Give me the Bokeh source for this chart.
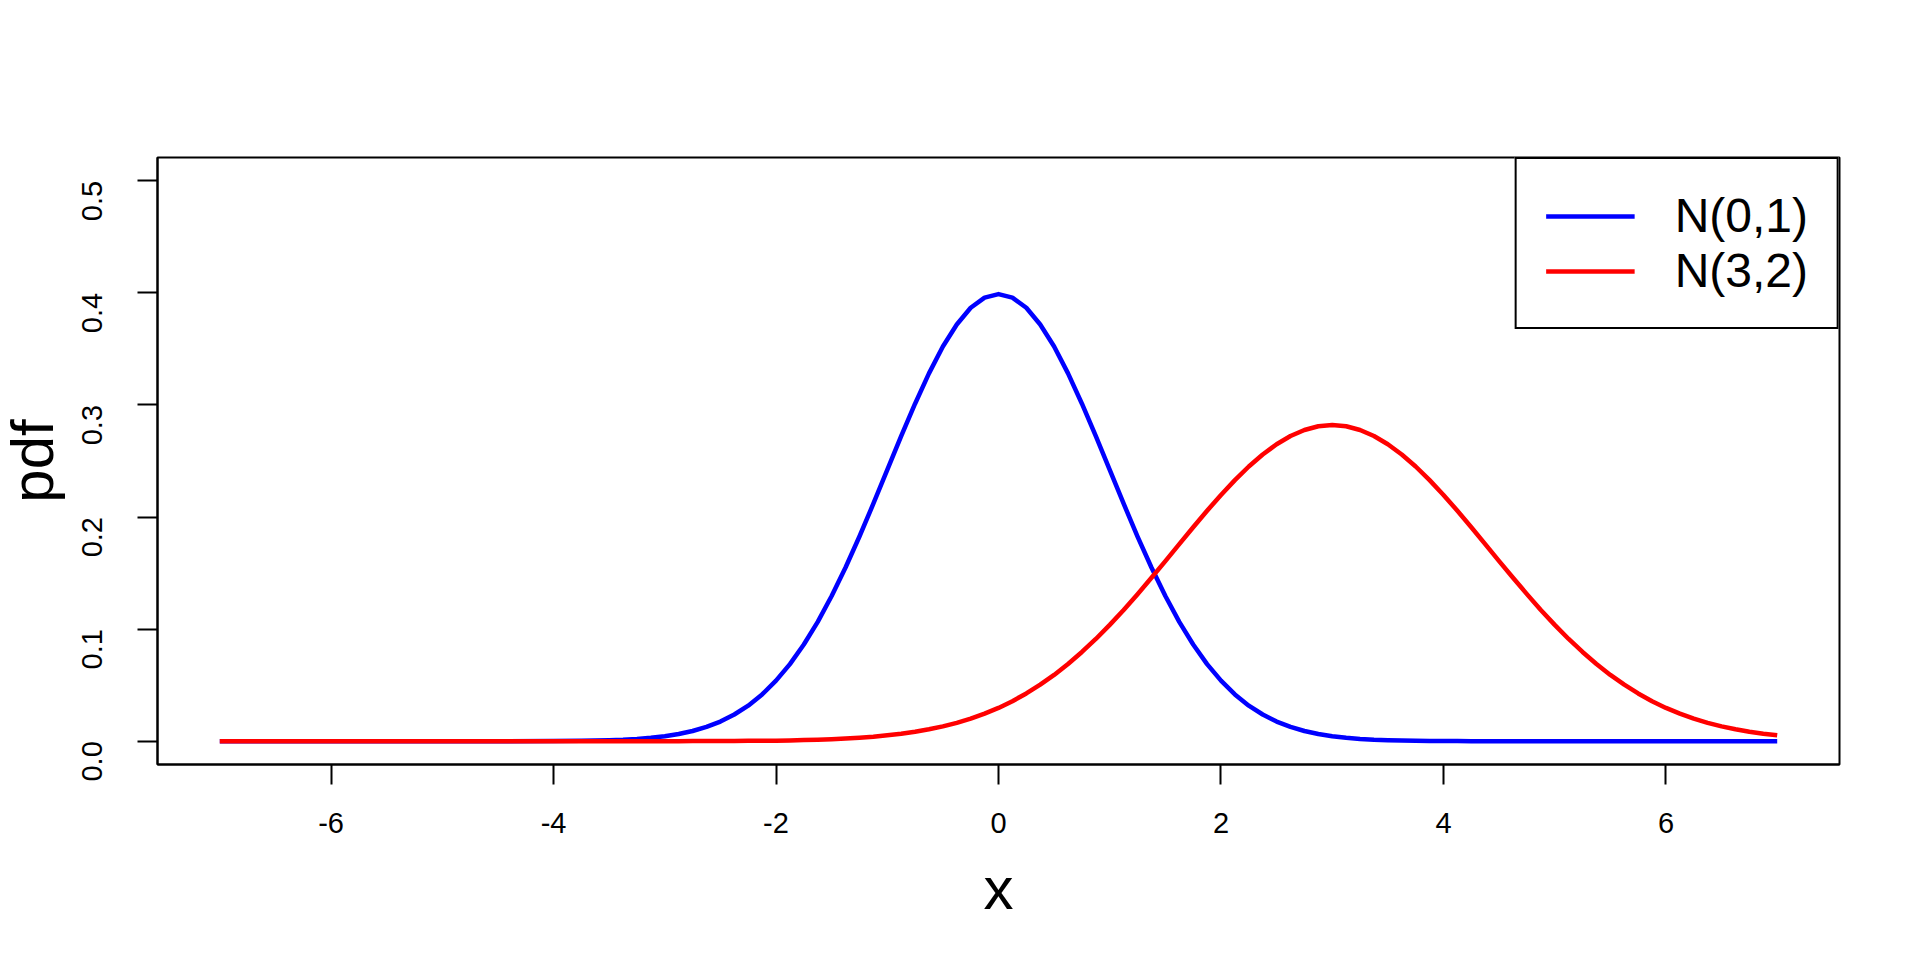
from bokeh.plotting import figure
from bokeh.models import Range1d, FixedTicker, Legend, LegendItem
from bokeh.embed import file_html
from bokeh.resources import INLINE
import math

# x positions of the sampled curve points
x_vals = [-7.0, -6.5, -6.0, -5.5, -5.0, -4.5, -4.0,
          -3.75, -3.625, -3.5, -3.375, -3.25, -3.125, -3.0, -2.875,
          -2.75, -2.625, -2.5, -2.375, -2.25, -2.125, -2.0, -1.875,
          -1.75, -1.625, -1.5, -1.375, -1.25, -1.125, -1.0, -0.875,
          -0.75, -0.625, -0.5, -0.375, -0.25, -0.125, 0.0, 0.125,
          0.25, 0.375, 0.5, 0.625, 0.75, 0.875, 1.0, 1.125,
          1.25, 1.375, 1.5, 1.625, 1.75, 1.875, 2.0, 2.125,
          2.25, 2.375, 2.5, 2.625, 2.75, 2.875, 3.0, 3.125,
          3.25, 3.375, 3.5, 3.625, 3.75, 3.875, 4.0, 4.125,
          4.25, 4.375, 4.5, 4.625, 4.75, 4.875, 5.0, 5.125,
          5.25, 5.375, 5.5, 5.625, 5.75, 5.875, 6.0, 6.125,
          6.25, 6.375, 6.5, 6.625, 6.75, 6.875, 7.0]

# N(0,1) density
pdf_n01 = [0.0, 0.0, 0.0, 0.0, 0.0, 0.0, 0.0001,
           0.0004, 0.0006, 0.0009, 0.0013, 0.0020, 0.0030, 0.0044, 0.0064,
           0.0091, 0.0127, 0.0175, 0.0238, 0.0317, 0.0417, 0.0540, 0.0688,
           0.0863, 0.1065, 0.1295, 0.1550, 0.1826, 0.2119, 0.2420, 0.2721,
           0.3011, 0.3282, 0.3521, 0.3718, 0.3867, 0.3958, 0.3989, 0.3958,
           0.3867, 0.3718, 0.3521, 0.3282, 0.3011, 0.2721, 0.2420, 0.2119,
           0.1826, 0.1550, 0.1295, 0.1065, 0.0863, 0.0688, 0.0540, 0.0417,
           0.0317, 0.0238, 0.0175, 0.0127, 0.0091, 0.0064, 0.0044, 0.0030,
           0.0020, 0.0013, 0.0009, 0.0006, 0.0004, 0.0002, 0.0001, 0.0001,
           0.0, 0.0, 0.0, 0.0, 0.0, 0.0, 0.0, 0.0,
           0.0, 0.0, 0.0, 0.0, 0.0, 0.0, 0.0, 0.0,
           0.0, 0.0, 0.0, 0.0, 0.0, 0.0, 0.0]

# N(3,2) density
pdf_n32 = [0.0, 0.0, 0.0, 0.0, 0.0, 0.0, 0.0,
           0.0, 0.0, 0.0, 0.0, 0.0, 0.0, 0.0, 0.0,
           0.0001, 0.0001, 0.0001, 0.0002, 0.0003, 0.0004, 0.0005, 0.0007,
           0.0010, 0.0013, 0.0018, 0.0024, 0.0031, 0.0040, 0.0052, 0.0066,
           0.0084, 0.0106, 0.0132, 0.0164, 0.0201, 0.0246, 0.0297, 0.0357,
           0.0426, 0.0504, 0.0591, 0.0689, 0.0796, 0.0912, 0.1038, 0.1171,
           0.1312, 0.1458, 0.1607, 0.1758, 0.1909, 0.2056, 0.2197, 0.2329,
           0.2451, 0.2558, 0.2650, 0.2723, 0.2777, 0.2810, 0.2821, 0.2810,
           0.2777, 0.2723, 0.2650, 0.2558, 0.2451, 0.2329, 0.2197, 0.2056,
           0.1909, 0.1758, 0.1607, 0.1458, 0.1312, 0.1171, 0.1038, 0.0912,
           0.0796, 0.0689, 0.0591, 0.0504, 0.0426, 0.0357, 0.0297, 0.0246,
           0.0201, 0.0164, 0.0132, 0.0106, 0.0084, 0.0066, 0.0052]

x_ticks = [-6, -4, -2, 0, 2, 4, 6]
x_tick_labels = {-6: "-6", -4: "-4", -2: "-2", 0: "0", 2: "2", 4: "4", 6: "6"}
y_ticks = [0.0, 0.1, 0.2, 0.3, 0.4, 0.5]
y_tick_labels = {0.0: "0.0", 0.1: "0.1", 0.2: "0.2", 0.3: "0.3", 0.4: "0.4", 0.5: "0.5"}
series_labels = ["N(0,1)", "N(3,2)"]
series_colors = ["#0000FF", "#FF0000"]

FONT = "Liberation Sans"

# left panel fixed at 172px, shifted left so the frame starts at x=157
p = figure(width=1927, height=952, output_backend="svg", toolbar_location=None,
           x_range=Range1d(-7.56, 7.56), y_range=Range1d(-0.0208, 0.5208),
           min_border_left=172, min_border_right=73, min_border_top=157, min_border_bottom=188)
p.margin = (0, 0, 0, -15)
p.background_fill_color = "white"
p.border_fill_color = "white"
p.outline_line_color = "black"
p.outline_line_width = 2
p.xgrid.visible = False
p.ygrid.visible = False

r1 = p.line(x_vals, pdf_n01, line_color=series_colors[0], line_width=4.5, line_join="round")
r2 = p.line(x_vals, pdf_n32, line_color=series_colors[1], line_width=4.5, line_join="round")

for ax in (p.xaxis[0], p.yaxis[0]):
    ax.axis_line_color = "black"
    ax.axis_line_width = 2
    ax.major_tick_line_color = "black"
    ax.major_tick_line_width = 2
    ax.major_tick_out = 20
    ax.major_tick_in = 0
    ax.minor_tick_line_color = None
    ax.major_label_text_font = FONT
    ax.major_label_text_font_size = "29px"
    ax.major_label_text_color = "black"
    ax.axis_label_text_font = FONT
    ax.axis_label_text_font_size = "60px"
    ax.axis_label_text_font_style = "normal"
    ax.axis_label_text_color = "black"

p.xaxis.ticker = FixedTicker(ticks=x_ticks)
p.xaxis.major_label_overrides = x_tick_labels
p.yaxis.ticker = FixedTicker(ticks=y_ticks)
p.yaxis.major_label_overrides = y_tick_labels
p.yaxis.major_label_orientation = math.pi / 2
p.xaxis.axis_label = "x"
p.yaxis.axis_label = "pdf"
p.xaxis.major_label_standoff = 28
p.xaxis.axis_label_standoff = 19
p.yaxis.major_label_standoff = 45
p.yaxis.axis_label_standoff = 4

legend = Legend(items=[LegendItem(label=series_labels[0], renderers=[r1]),
                       LegendItem(label=series_labels[1], renderers=[r2])],
                location="top_right", margin=0, padding=29, spacing=0,
                glyph_width=89, glyph_height=54, label_height=54, label_standoff=40,
                border_line_color="black", border_line_width=2, border_line_alpha=1.0,
                background_fill_color="white", background_fill_alpha=1.0,
                label_text_font=FONT, label_text_font_size="48px", label_text_color="black")
p.add_layout(legend)

open("out.html", "w").write(file_html(p, INLINE))
